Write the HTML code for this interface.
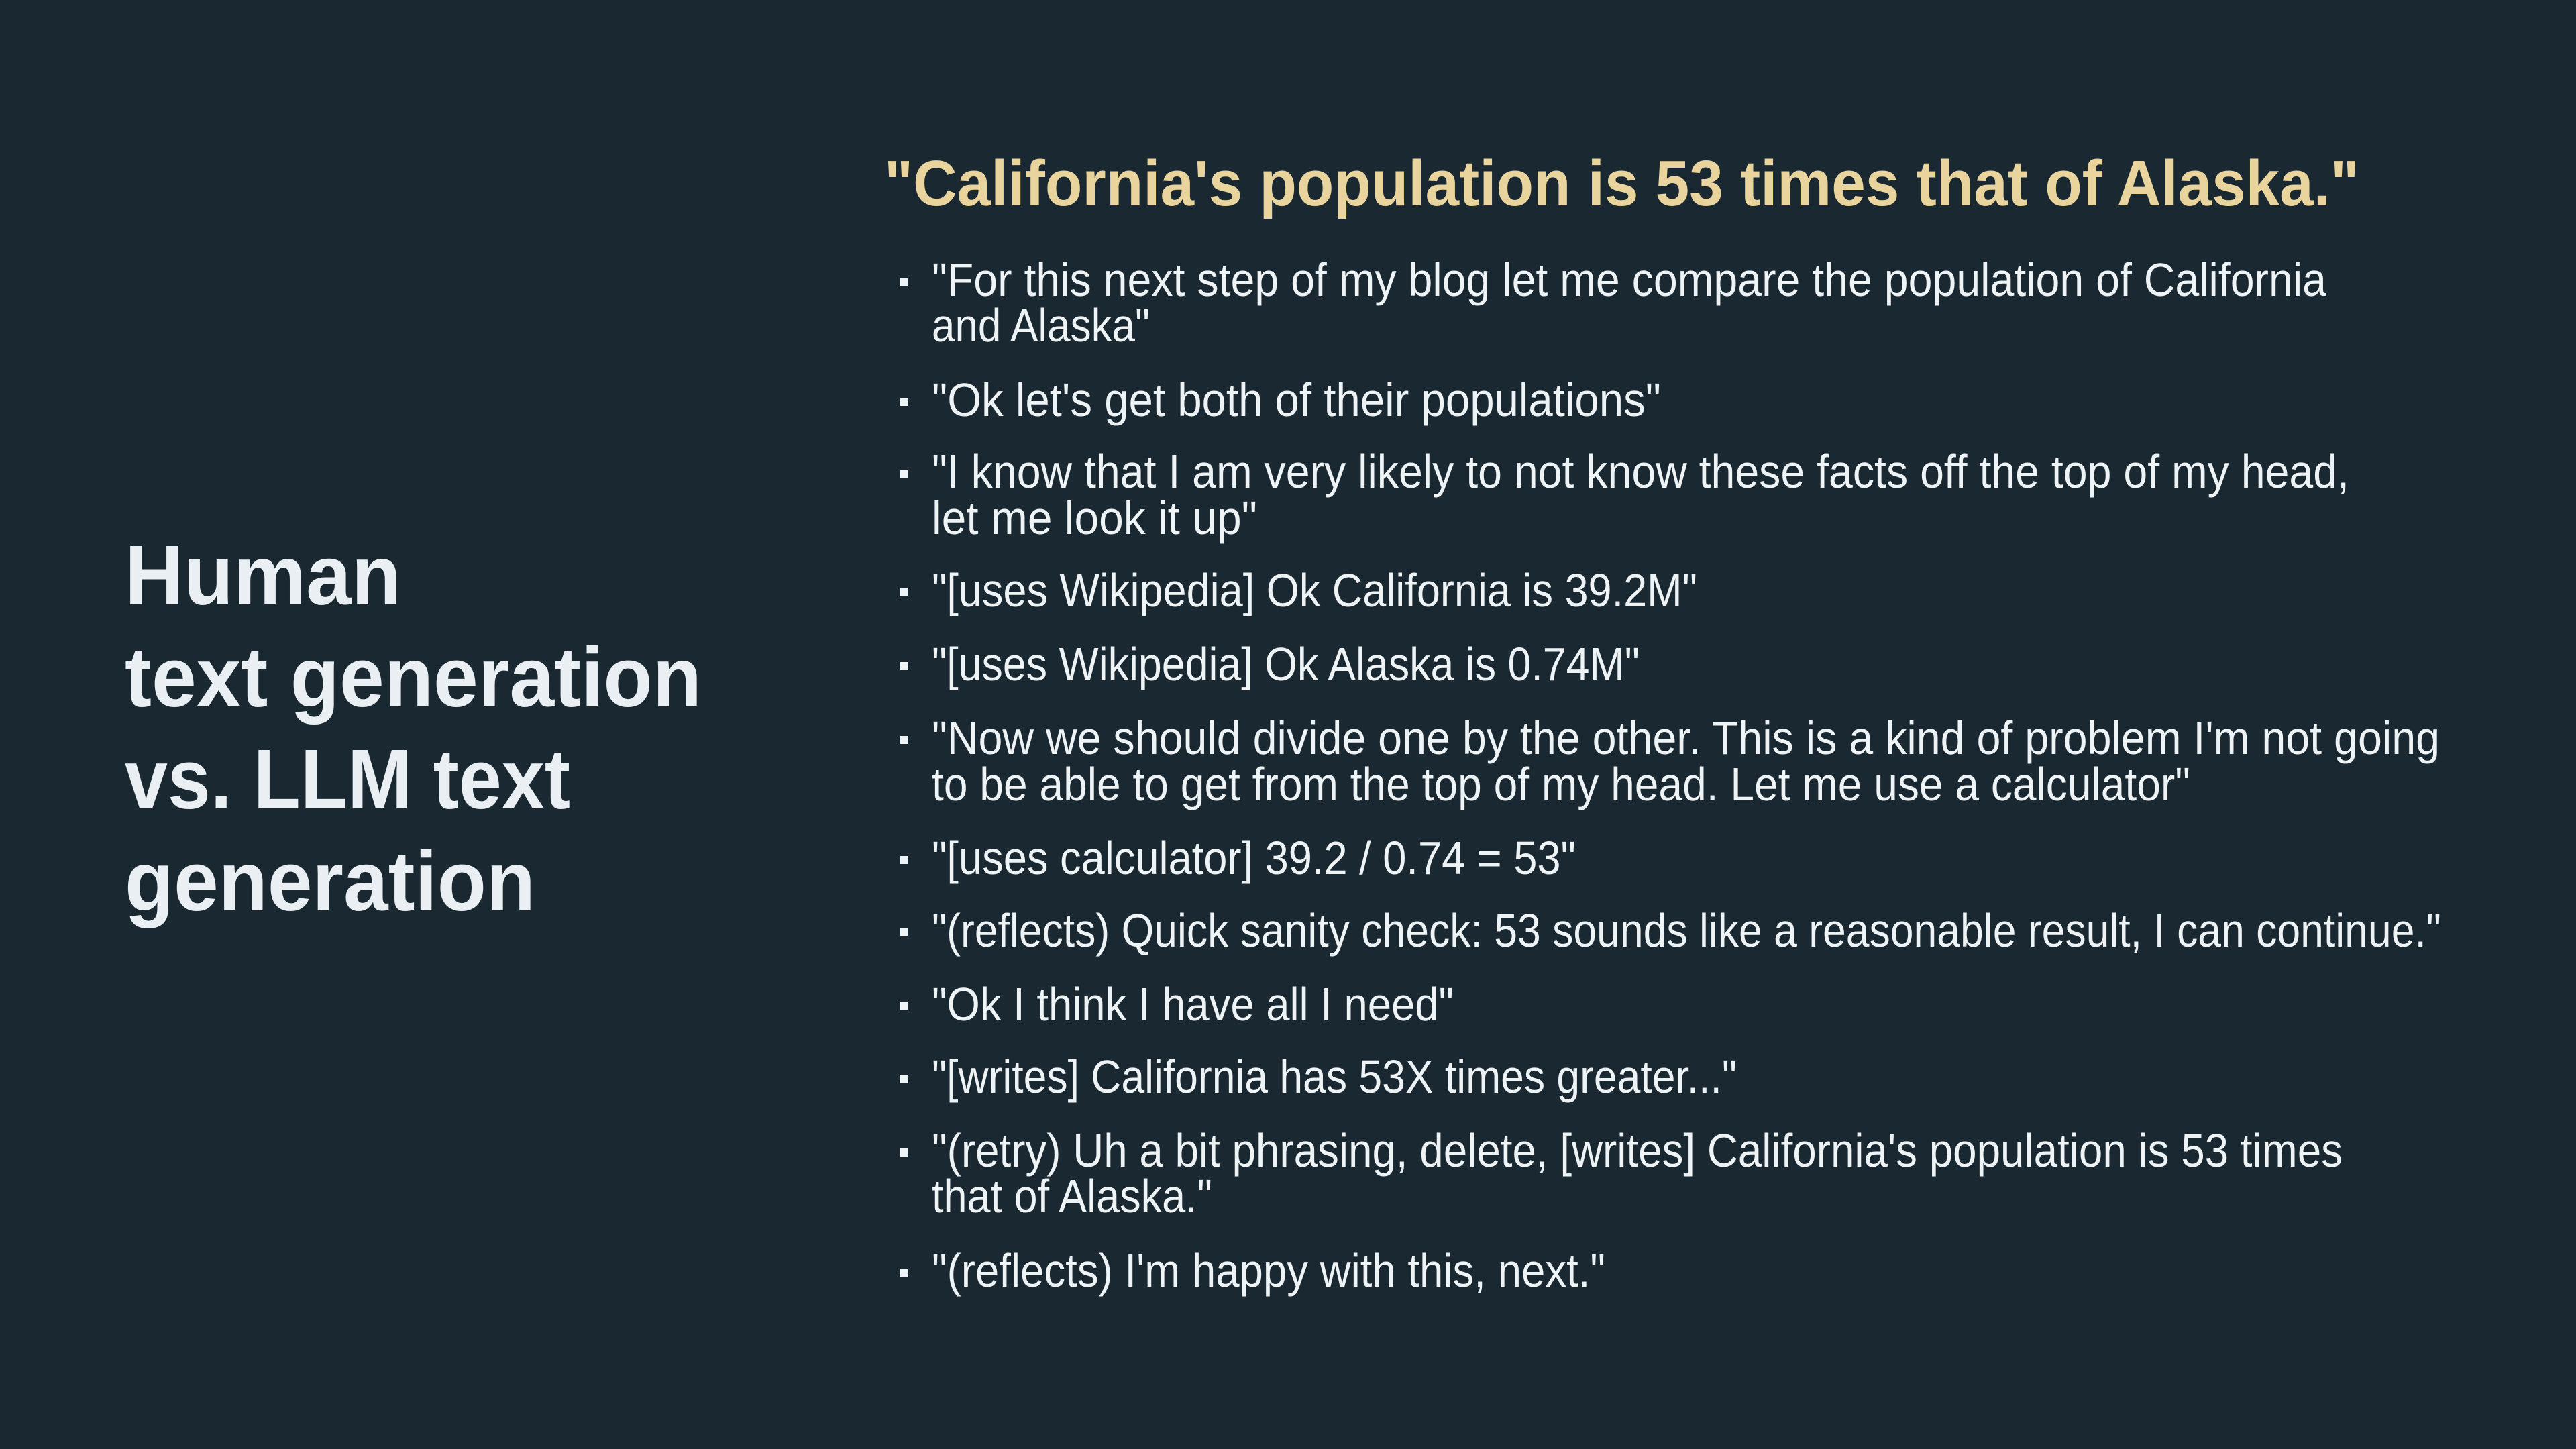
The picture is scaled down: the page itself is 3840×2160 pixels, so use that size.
<!DOCTYPE html>
<html><head><meta charset="utf-8"><style>
html,body{margin:0;padding:0;background:#1a2832;}
svg{display:block;}
text{font-family:"Liberation Sans",sans-serif;}
</style></head><body>
<svg width="3840" height="2160" viewBox="0 0 3840 2160" xmlns="http://www.w3.org/2000/svg">
<rect width="3840" height="2160" fill="#1a2832"/>
<g fill="#e9eff2" font-size="126" font-weight="bold">
<text x="186" y="901" textLength="412" lengthAdjust="spacingAndGlyphs">Human</text>
<text x="186" y="1053" textLength="860" lengthAdjust="spacingAndGlyphs">text generation</text>
<text x="186" y="1205" textLength="664" lengthAdjust="spacingAndGlyphs">vs. LLM text</text>
<text x="186" y="1357" textLength="612" lengthAdjust="spacingAndGlyphs">generation</text>
</g>
<text x="1318" y="306" fill="#e8d49c" font-size="96" font-weight="bold" textLength="2199" lengthAdjust="spacingAndGlyphs">"California's population is 53 times that of Alaska."</text>
<g fill="#eef3f5" font-size="70">
<rect x="1341" y="414" width="12" height="12"/>
<text x="1389" y="441" textLength="2079" lengthAdjust="spacingAndGlyphs">"For this next step of my blog let me compare the population of California</text>
<text x="1389" y="509" textLength="325" lengthAdjust="spacingAndGlyphs">and Alaska"</text>
<rect x="1341" y="593" width="12" height="12"/>
<text x="1389" y="620" textLength="1087" lengthAdjust="spacingAndGlyphs">"Ok let's get both of their populations"</text>
<rect x="1341" y="700" width="12" height="12"/>
<text x="1389" y="727" textLength="2113" lengthAdjust="spacingAndGlyphs">"I know that I am very likely to not know these facts off the top of my head,</text>
<text x="1389" y="796" textLength="485" lengthAdjust="spacingAndGlyphs">let me look it up"</text>
<rect x="1341" y="877" width="12" height="12"/>
<text x="1389" y="904" textLength="1141" lengthAdjust="spacingAndGlyphs">"[uses Wikipedia] Ok California is 39.2M"</text>
<rect x="1341" y="987" width="12" height="12"/>
<text x="1389" y="1014" textLength="1055" lengthAdjust="spacingAndGlyphs">"[uses Wikipedia] Ok Alaska is 0.74M"</text>
<rect x="1341" y="1097" width="12" height="12"/>
<text x="1389" y="1124" textLength="2248" lengthAdjust="spacingAndGlyphs">"Now we should divide one by the other. This is a kind of problem I'm not going</text>
<text x="1389" y="1193" textLength="1876" lengthAdjust="spacingAndGlyphs">to be able to get from the top of my head. Let me use a calculator"</text>
<rect x="1341" y="1276" width="12" height="12"/>
<text x="1389" y="1303" textLength="960" lengthAdjust="spacingAndGlyphs">"[uses calculator] 39.2 / 0.74 = 53"</text>
<rect x="1341" y="1384" width="12" height="12"/>
<text x="1389" y="1411" textLength="2250" lengthAdjust="spacingAndGlyphs">"(reflects) Quick sanity check: 53 sounds like a reasonable result, I can continue."</text>
<rect x="1341" y="1494" width="12" height="12"/>
<text x="1389" y="1521" textLength="778" lengthAdjust="spacingAndGlyphs">"Ok I think I have all I need"</text>
<rect x="1341" y="1602" width="12" height="12"/>
<text x="1389" y="1629" textLength="1200" lengthAdjust="spacingAndGlyphs">"[writes] California has 53X times greater..."</text>
<rect x="1341" y="1712" width="12" height="12"/>
<text x="1389" y="1739" textLength="2103" lengthAdjust="spacingAndGlyphs">"(retry) Uh a bit phrasing, delete, [writes] California's population is 53 times</text>
<text x="1389" y="1807" textLength="418" lengthAdjust="spacingAndGlyphs">that of Alaska."</text>
<rect x="1341" y="1891" width="12" height="12"/>
<text x="1389" y="1918" textLength="1004" lengthAdjust="spacingAndGlyphs">"(reflects) I'm happy with this, next."</text>
</g>
</svg>
</body></html>
